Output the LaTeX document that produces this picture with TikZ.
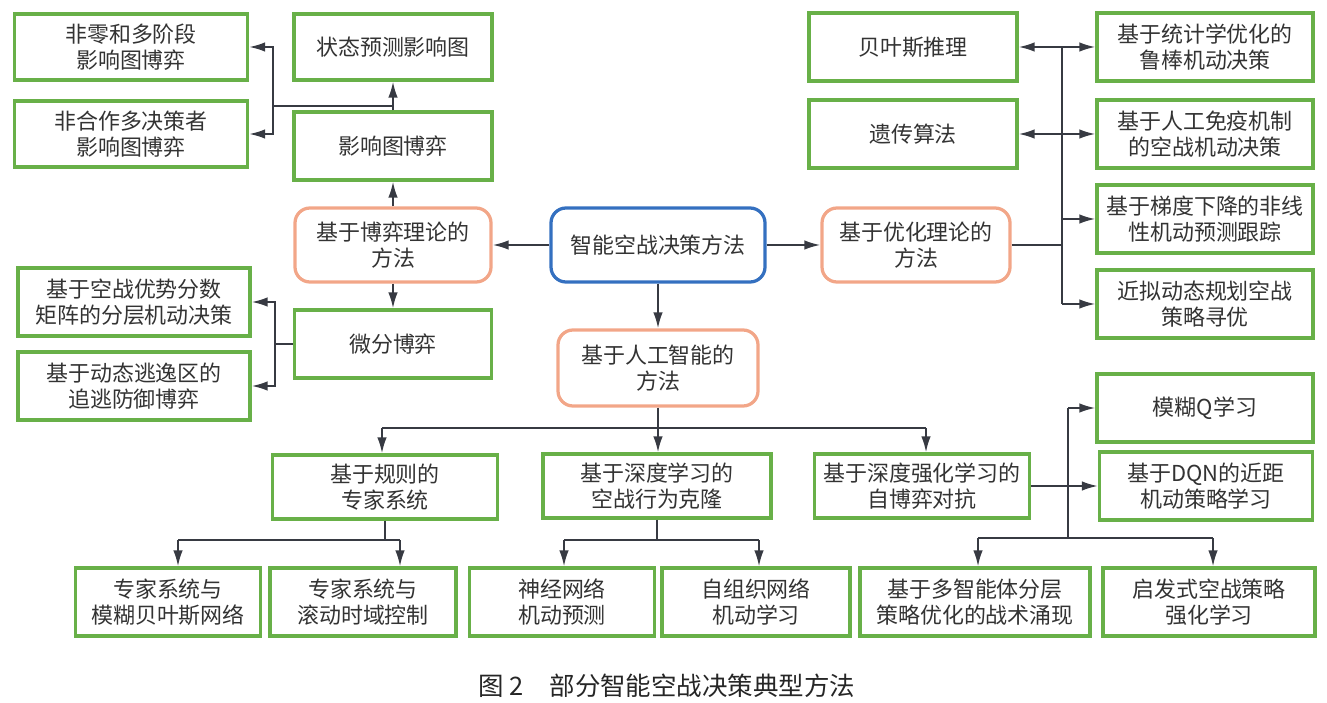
\documentclass[tikz,border=0pt]{standalone}
\usepackage{fontspec}
\setmainfont{Noto Sans CJK SC}
\usetikzlibrary{arrows.meta}

\definecolor{boxgreen}{RGB}{104,176,72}
\definecolor{boxorange}{RGB}{242,166,136}
\definecolor{boxblue}{RGB}{52,112,192}
\definecolor{linegray}{RGB}{55,58,66}

\begin{document}
\begin{tikzpicture}[x=0.2mm,y=-0.2mm]
	\tikzstyle{box} = [draw=boxgreen, line width=0.65mm, align=center, minimum height=13.6mm, inner sep=1pt, text=black!80, font=\fontsize{12.5}{14.5}\selectfont]
	\tikzstyle{method} = [box, draw=boxorange, rounded corners=3mm, minimum height=14.8mm]
	\tikzstyle{root} = [method, draw=boxblue]
	\tikzstyle{arr} = [-{Latex[length=3.2mm,width=1.9mm]}, line width=0.38mm, draw=linegray]
	\tikzstyle{wire} = [line width=0.38mm, draw=linegray]

	\useasboundingbox (0,0) rectangle (1327,703);

%----------Корінь і три групи методів------------------------------
	\node[root, minimum width=42.8mm] (root) at (658,245) {智能空战决策方法};
	\node[method, minimum width=39.2mm] (game) at (393,245) {基于博弈理论的\\方法};
	\node[method, minimum width=37.6mm] (opt) at (916,245) {基于优化理论的\\方法};
	\node[method, minimum width=40mm, minimum height=15.2mm] (ai) at (658,368) {基于人工智能的\\方法};

	\draw[arr] (root) -- (game);
	\draw[arr] (root) -- (opt);
	\draw[arr] (root) -- (ai);

%----------博弈理论------------------------------------------------
	\node[box, minimum width=46.6mm, minimum height=13.2mm] (zs) at (131,47) {非零和多阶段\\影响图博弈};
	\node[box, minimum width=46.6mm, minimum height=13.2mm] (nc) at (131,134) {非合作多决策者\\影响图博弈};
	\node[box, minimum width=39.6mm, minimum height=13.2mm] (sp) at (393,47) {状态预测影响图};
	\node[box, minimum width=39.6mm] (id) at (393,146) {影响图博弈};
	\node[box, minimum width=39.4mm] (dg) at (393,344) {微分博弈};
	\node[box, minimum width=46.4mm] (adv) at (134,302) {基于空战优势分数\\矩阵的分层机动决策};
	\node[box, minimum width=46.4mm] (esc) at (134,386) {基于动态逃逸区的\\追逃防御博弈};

	\draw[arr] (game) -- (id);
	\draw[arr] (id) -- (sp);
	\coordinate (idj) at (393,106);
	\coordinate (idl) at (273,106);
	\draw[wire] (idj) -- (idl);
	\draw[arr] (idl) |- (zs);
	\draw[arr] (idl) |- (nc);

	\draw[arr] (game) -- (dg);
	\coordinate (dgl) at (275,344);
	\draw[wire] (dg) -- (dgl);
	\draw[arr] (dgl) |- (adv);
	\draw[arr] (dgl) |- (esc);

%----------Оптимізація---------------------------------------------
	\node[box, minimum width=41.6mm] (bay) at (913,47) {贝叶斯推理};
	\node[box, minimum width=41.6mm] (gen) at (913,134) {遗传算法};
	\node[box, minimum width=43.2mm] (rob) at (1205,47) {基于统计学优化的\\鲁棒机动决策};
	\node[box, minimum width=43.2mm] (imm) at (1205,134) {基于人工免疫机制\\的空战机动决策};
	\node[box, minimum width=43.2mm] (grd) at (1205,219) {基于梯度下降的非线\\性机动预测跟踪};
	\node[box, minimum width=43.2mm] (adp) at (1205,304) {近拟动态规划空战\\策略寻优};

	\coordinate (optj) at (1062,245);
	\coordinate (opt1) at (1062,47);
	\coordinate (opt2) at (1062,134);
	\coordinate (opt3) at (1062,219);
	\coordinate (opt4) at (1062,304);
	\draw[wire] (opt) -- (optj);
	\draw[wire] (opt1) -- (opt4);
	\draw[arr] (opt1) -- (bay);
	\draw[arr] (opt1) -- (rob);
	\draw[arr] (opt2) -- (gen);
	\draw[arr] (opt2) -- (imm);
	\draw[arr] (opt3) -- (grd);
	\draw[arr] (opt4) -- (adp);

%----------Штучний інтелект----------------------------------------
	\node[box, minimum width=45mm, minimum height=12.8mm] (rule) at (385,487) {基于规则的\\专家系统};
	\node[box, minimum width=45.6mm, minimum height=12.8mm] (dl) at (657,486) {基于深度学习的\\空战行为克隆};
	\node[box, minimum width=43mm, minimum height=12.8mm] (drl) at (922,486) {基于深度强化学习的\\自博弈对抗};

	\coordinate (aij) at (658,428);
	\coordinate (ail) at (382,428);
	\coordinate (air) at (926,428);
	\draw[wire] (ai) -- (aij);
	\draw[wire] (ail) -- (air);
	\draw[arr] (ail) -- (ail |- rule.north);
	\draw[arr] (aij) -- (aij |- dl.north);
	\draw[arr] (air) -- (air |- drl.north);

%------------------------------------------------------------
	\node[box, minimum width=37mm] (fb) at (168,602) {专家系统与\\模糊贝叶斯网络};
	\node[box, minimum width=37.2mm] (rh) at (363,602) {专家系统与\\滚动时域控制};
	\node[box, minimum width=37mm] (nn) at (562,602) {神经网络\\机动预测};
	\node[box, minimum width=37.6mm] (som) at (756,602) {自组织网络\\机动学习};
	\node[box, minimum width=46mm] (mas) at (975,602) {基于多智能体分层\\策略优化的战术涌现};
	\node[box, minimum width=42.4mm] (heu) at (1209,602) {启发式空战策略\\强化学习};
	\node[box, minimum width=43.2mm] (fq) at (1205,408) {模糊Q学习};
	\node[box, minimum width=42.6mm] (dqn) at (1206,486) {基于DQN的近距\\机动策略学习};

	\coordinate (rulej) at (385,540);
	\coordinate (rulel) at (178,540);
	\coordinate (ruler) at (400,540);
	\draw[wire] (rule) -- (rulej);
	\draw[wire] (rulel) -- (ruler);
	\draw[arr] (rulel) -- (rulel |- fb.north);
	\draw[arr] (ruler) -- (ruler |- rh.north);

	\coordinate (dlj) at (657,540);
	\coordinate (dll) at (564,540);
	\coordinate (dlr) at (759,540);
	\draw[wire] (dl) -- (dlj);
	\draw[wire] (dll) -- (dlr);
	\draw[arr] (dll) -- (dll |- nn.north);
	\draw[arr] (dlr) -- (dlr |- som.north);

	\coordinate (drlt) at (1068,408);
	\coordinate (drlb) at (1068,538);
	\coordinate (drll) at (978,538);
	\coordinate (drlr) at (1213,538);
	\draw[arr] (drl) -- (dqn);
	\draw[wire] (drlt) -- (drlb);
	\draw[arr] (drlt) -- (fq);
	\draw[wire] (drll) -- (drlr);
	\draw[arr] (drll) -- (drll |- mas.north);
	\draw[arr] (drlr) -- (drlr |- heu.north);

%----------Підпис------------------------------------------------
	\node[font=\fontsize{14.5}{16}\selectfont, text=black!85] (cap) at (667,686) {图 2\quad 部分智能空战决策典型方法};
\end{tikzpicture}
\end{document}
